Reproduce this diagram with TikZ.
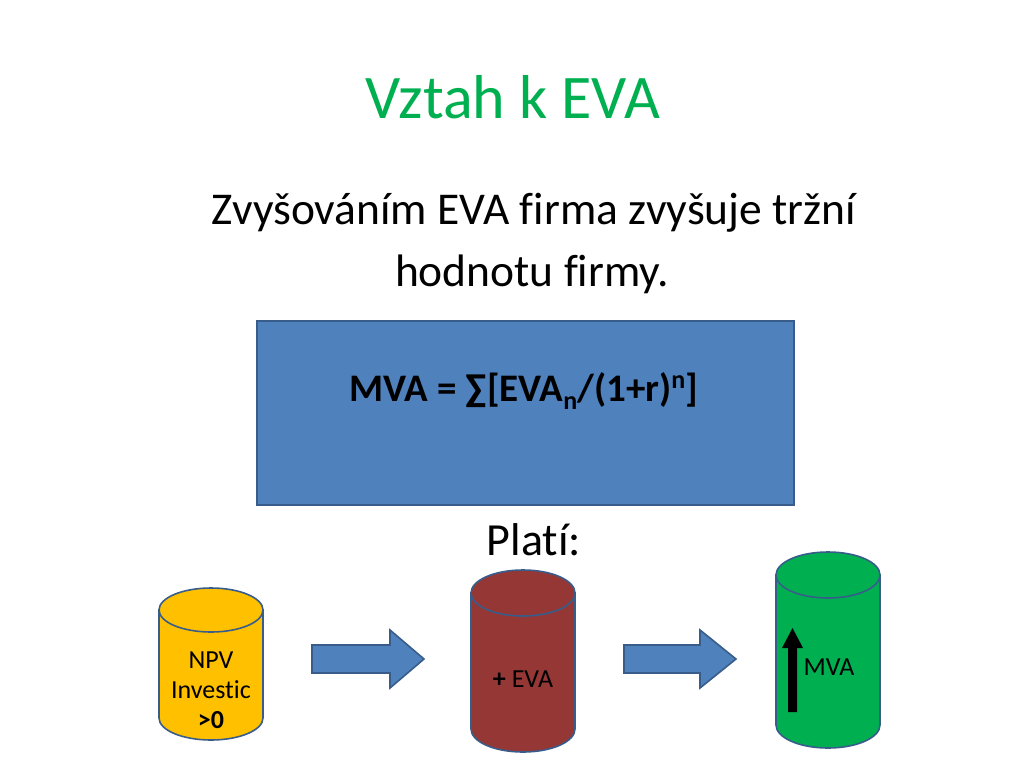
\documentclass[tikz,border=0pt]{standalone}
\usepackage{fontspec}
\setmainfont{Carlito}[Ligatures=NoCommon]
\usetikzlibrary{calc}
\definecolor{titlegreen}{HTML}{00B050}
\definecolor{boxblue}{HTML}{4F81BD}
\definecolor{edgeblue}{HTML}{385D8A}
\definecolor{cylyellow}{HTML}{FFC000}
\definecolor{cylred}{HTML}{953735}
\definecolor{cylgreen}{HTML}{00B050}
\tikzset{
  shapeedge/.style={draw=edgeblue, line width=1.6pt},
  fs/.style={font=\fontsize{#1}{#1}\selectfont},
  cyltext/.style={align=center, font=\fontsize{26}{30}\selectfont, inner sep=0pt},
}
% cylinder: #1 cx, #2 top cy, #3 bottom cy, #4 rx, #5 ry, #6 fill
\newcommand{\mycyl}[6]{%
  \path[shapeedge, fill=#6] (#1-#4,#2) -- (#1-#4,#3) arc[start angle=180, end angle=0, x radius=#4, y radius=#5] -- (#1+#4,#2) -- cycle;
  \path[shapeedge, fill=#6] (#1,#2) ellipse[x radius=#4, y radius=#5];
}
% block arrow: #1 x0, #2 x1 (head start), #3 x2 (tip), #4 cy, #5 half body, #6 half head
\newcommand{\myblockarrow}[6]{%
  \path[shapeedge, fill=boxblue] (#1,#4-#5) -- (#2,#4-#5) -- (#2,#4-#6) -- (#3,#4) -- (#2,#4+#6) -- (#2,#4+#5) -- (#1,#4+#5) -- cycle;
}
\begin{document}
\begin{tikzpicture}[x=1pt,y=-1pt]
\useasboundingbox[fill=white] (0,0) rectangle (1024,768);
\node[fs=62, text=titlegreen, inner sep=0pt] (title) at (513,97) {Vztah k EVA};
\node[fs=45.5, inner sep=0pt] (sub1) at (534,213) {Zvyšováním EVA firma zvyšuje tržní};
\node[fs=45.5, inner sep=0pt] (sub2) at (532,274) {hodnotu firmy.};
\node[shapeedge, fill=boxblue, minimum width=537pt, minimum height=184pt, anchor=north west, inner sep=0pt] (box) at (256,320) {};
\node[inner sep=0pt, font=\bfseries\fontsize{39}{39}\selectfont] (formula) at (524,391) {MVA = ∑[EVA\raisebox{-0.22em}{\fontsize{26}{26}\selectfont n}/(1+r)\raisebox{0.33em}{\fontsize{26}{26}\selectfont n}]};
\node[fs=46, inner sep=0pt] (plati) at (534,540) {Platí:};
% cylinders
\mycyl{211}{610}{718}{52}{22}{cylyellow}
\mycyl{523}{593}{729}{52}{23}{cylred}
\mycyl{828}{575}{725}{52}{23}{cylgreen}
\node[cyltext] (npv) at (211,690) {NPV\\Investic\\\textbf{>0}};
\node[cyltext] (eva) at (523,679) {\textbf{+} EVA};
\node[cyltext] (mva) at (829,667) {MVA};
% block arrows
\myblockarrow{312}{390}{424}{659}{14}{29}
\myblockarrow{624}{700}{736}{659}{14}{29}
% black arrow inside green cylinder
\fill[black] (788,712) -- (788,648) -- (782,648) -- (792.5,628) -- (803,648) -- (797,648) -- (797,712) -- cycle;
\end{tikzpicture}
\end{document}
